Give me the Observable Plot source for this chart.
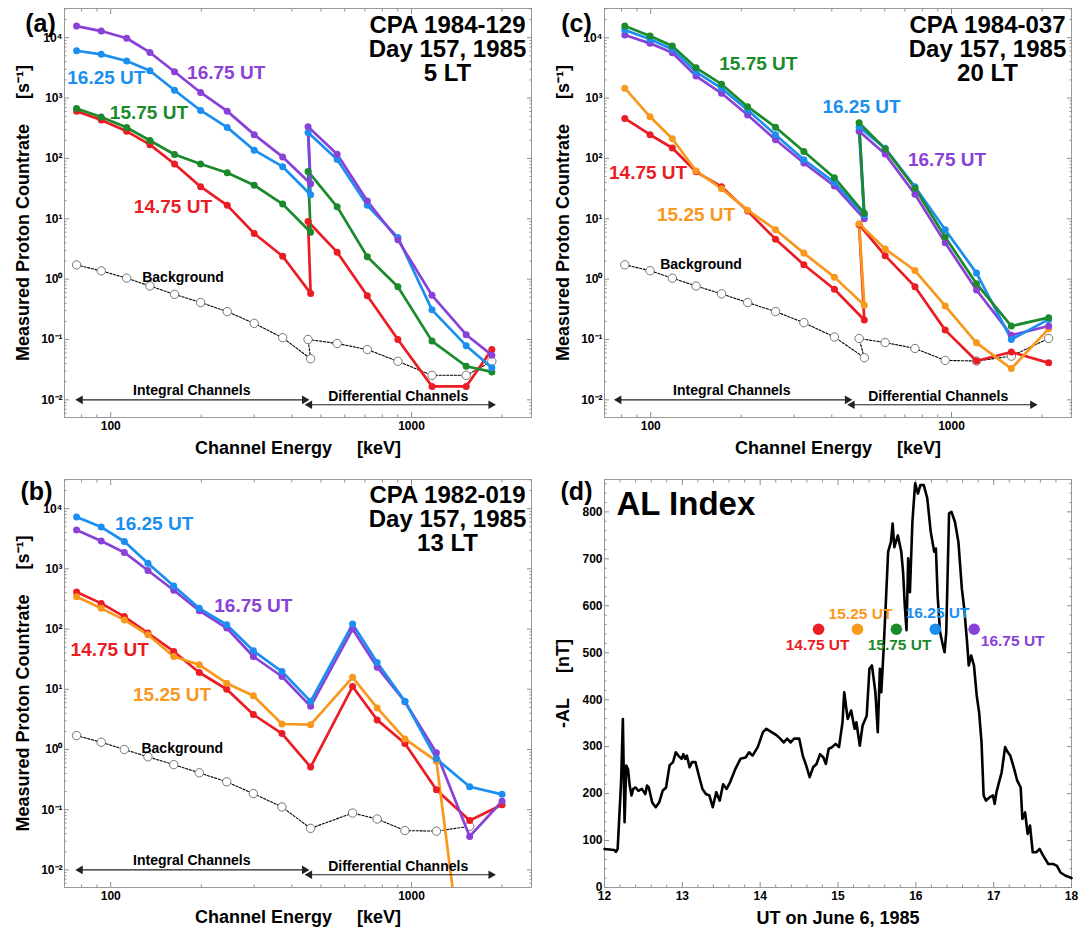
<!DOCTYPE html>
<html><head><meta charset="utf-8">
<script src="https://cdn.jsdelivr.net/npm/d3@7"></script>
<script src="https://cdn.jsdelivr.net/npm/@observablehq/plot@0.6"></script>
<style>
html,body{margin:0;padding:0;background:#fff;}
#fig{position:relative;width:1086px;height:930px;background:#fff;overflow:hidden;}
#fig > div{position:absolute;}
</style></head>
<body><div id="fig"></div>
<script>
// ---------------- DATA ----------------
const timeLabels = ["14.75 UT", "15.25 UT", "15.75 UT", "16.25 UT", "16.75 UT"];
const timeColors = ["#ea1c24", "#f8981d", "#1b8a2b", "#1b8fef", "#8a41d8"];

// Panel (a) CPA 1984-129, 5 LT
const aEnergy = [77, 93, 113, 135, 163, 199, 244, 300, 373, 462, 453, 566, 713, 901, 1170, 1520, 1850];
const aBackground = [1.72, 1.37, 1.04, 0.77, 0.56, 0.41, 0.29, 0.185, 0.107, 0.048, 0.10, 0.086, 0.068, 0.0435, 0.0255, 0.0255, 0.0435];
const a1475 = [608, 434, 281, 169, 81, 34, 16.7, 5.7, 2.4, 0.58, 9.0, 2.8, 0.53, 0.10, 0.0167, 0.0167, 0.068];
const a1575 = [672, 485, 326, 198, 116, 81, 58, 36, 17.5, 6.0, 61, 15.8, 2.35, 0.75, 0.094, 0.036, 0.029];
const a1625 = [6080, 5300, 4110, 2840, 1350, 624, 327, 137, 73, 25, 270, 96, 16.7, 4.9, 0.31, 0.079, 0.034];
const a1675 = [15600, 12900, 9800, 5700, 2730, 1240, 608, 248, 106, 38, 334, 117, 19.7, 4.5, 0.54, 0.12, 0.055];
const aLabelTimes = ["16.75 UT", "16.25 UT", "15.75 UT", "14.75 UT"];
const aLabelEnergy = [242, 96.7, 134, 161];
const aLabelRate = [2640, 2120, 572, 16];
const aTitle = "CPA 1984-129\nDay 157, 1985\n5 LT";

// Panel (b) CPA 1982-019, 13 LT
const bEnergy = [77, 93, 111, 133, 162, 197, 243, 298, 371, 462, 637, 769, 951, 1210, 1561, 2000];
const bBackground = [1.70, 1.32, 1.0, 0.755, 0.56, 0.41, 0.29, 0.185, 0.111, 0.049, 0.088, 0.07, 0.045, 0.044, 0.053, null];
const b1475 = [414, 267, 161, 86, 42.5, 19, 10, 3.8, 1.84, 0.51, 11.1, 3.1, 1.26, 0.215, 0.066, 0.121];
const b1525 = [343, 221, 142, 80.5, 35, 25.5, 12.6, 7.8, 2.65, 2.58, 15.8, 4.9, 1.5, 0.64, 0.00003, null];
const b1625 = [7300, 4940, 2850, 1240, 520, 221, 118, 43.5, 19.7, 6.3, 121, 27.8, 6.3, 0.70, 0.24, 0.18];
const b1675 = [4410, 2910, 1875, 940, 442, 202, 104, 35, 16.3, 5.2, 100, 23.3, 6.2, 0.88, 0.036, 0.138];
const bLabelTimes = ["16.25 UT", "16.75 UT", "14.75 UT", "15.25 UT"];
const bLabelEnergy = [139.5, 298, 99.2, 160];
const bLabelRate = [5610, 241, 45, 8.07];
const bTitle = "CPA 1982-019\nDay 157, 1985\n13 LT";

// Panel (c) CPA 1984-037, 20 LT
const cEnergy = [82, 99.5, 118, 141.5, 172, 210, 260, 323, 408, 513, 493, 602, 756, 953, 1211, 1581, 2104];
const cBackground = [1.73, 1.38, 1.04, 0.77, 0.57, 0.41, 0.29, 0.19, 0.11, 0.05, 0.104, 0.089, 0.071, 0.045, 0.044, 0.053, 0.104];
const c1475 = [460, 247, 149, 60, 34, 13.4, 4.6, 1.73, 0.68, 0.21, 8.0, 2.45, 0.75, 0.143, 0.044, 0.062, 0.041];
const c1525 = [1460, 490, 212, 62, 31.6, 13.9, 6.6, 2.7, 1.08, 0.37, 8.3, 3.16, 1.39, 0.36, 0.088, 0.033, 0.15];
const c1575 = [15600, 10700, 7280, 3170, 1700, 720, 329, 130, 48, 12.3, 390, 144, 32, 5.0, 0.84, 0.167, 0.23];
const c1625 = [13400, 9400, 6420, 2730, 1450, 635, 247, 95, 40, 11.4, 333, 147, 34, 6.6, 1.26, 0.10, 0.215];
const c1675 = [11100, 8070, 5640, 2320, 1200, 523, 204, 84, 35, 10, 281, 118, 25.5, 4.0, 0.66, 0.118, 0.167];
const cLabelTimes = ["15.75 UT", "16.25 UT", "16.75 UT", "14.75 UT", "15.25 UT"];
const cLabelEnergy = [228, 502, 966, 98, 141.5];
const cLabelRate = [3730, 724, 94, 57, 11.4];
const cTitle = "CPA 1984-037\nDay 157, 1985\n20 LT";

// Background / channel annotations (energy, rate)
const aBgLabel = [174, 1.08], bBgLabel = [173, 1.04], cBgLabel = [147, 1.78];
const integralSpan = [77.4, 451], differentialSpan = [448, 1880];
const cIntegralSpan = [76.6, 461], cDifferentialSpan = [457, 1905];
const arrowRates = [0.01, 0.0083];
const channelTextEnergy = [186, 903];
const channelTextRate = [0.0142, 0.0112];

// Panel (d) AL index
const alTime = [
12.000,12.124,12.147,12.169,12.191,12.213,12.236,12.258,12.280,12.302,
12.324,12.347,12.369,12.400,12.436,12.480,12.524,12.547,12.569,12.613,
12.658,12.702,12.747,12.791,12.836,12.880,12.916,12.947,12.991,13.013,
13.036,13.058,13.093,13.124,13.169,13.213,13.258,13.302,13.347,13.391,
13.436,13.480,13.524,13.569,13.613,13.680,13.747,13.813,13.858,13.902,
13.969,14.036,14.080,14.147,14.213,14.258,14.302,14.347,14.391,14.436,
14.502,14.547,14.591,14.636,14.680,14.724,14.769,14.813,14.844,14.880,
14.924,14.969,15.013,15.058,15.080,15.124,15.169,15.213,15.236,15.280,
15.316,15.369,15.404,15.436,15.480,15.511,15.538,15.556,15.582,15.613,
15.644,15.680,15.702,15.724,15.769,15.813,15.836,15.858,15.880,15.902,
15.924,15.956,15.991,16.027,16.058,16.102,16.147,16.191,16.236,16.258,
16.280,16.311,16.347,16.369,16.391,16.427,16.458,16.502,16.547,16.591,
16.622,16.658,16.680,16.711,16.747,16.782,16.813,16.844,16.871,16.902,
16.947,16.991,17.013,17.036,17.080,17.102,17.147,17.182,17.213,17.258,
17.302,17.347,17.369,17.404,17.436,17.467,17.502,17.547,17.591,17.636,
17.702,17.769,17.813,17.858,17.924,17.991,18.000];
const alValue = [
82,80,76,82,153,224,359,139,260,252,
217,196,210,213,206,210,199,217,213,181,
171,181,206,213,260,267,288,281,274,284,
274,281,256,267,267,238,210,199,196,171,
203,185,220,210,224,252,274,277,288,281,
299,331,338,331,324,317,309,317,309,317,
317,281,260,235,256,263,284,277,263,295,
299,306,299,352,416,359,377,338,352,302,
345,366,466,473,416,331,466,416,494,601,
715,736,775,725,750,715,672,601,548,701,
629,779,861,839,857,857,829,758,715,722,
622,544,516,501,544,797,800,779,736,637,
594,523,473,494,473,409,373,309,196,185,
192,196,178,203,231,245,299,288,281,256,
228,213,146,160,114,132,75,75,82,68,
50,50,46,32,25,21,20];
const markerTimes = [14.75, 15.25, 15.75, 16.25, 16.75];
const markerLevel = 550;
const markerLabelTime = [14.738, 15.289, 15.791, 16.28, 17.244];
const markerLabelValue = [516, 582, 516, 585, 526];

// tick values
const xMajorE = [100, 1000];
const xMinorE = [80, 90, 200, 300, 400, 500, 600, 700, 800, 900, 2000];
const yMajorE = [1e-2, 1e-1, 1, 10, 100, 1e3, 1e4];
const alYMajor = [0, 100, 200, 300, 400, 500, 600, 700, 800];
const alXMajor = [12, 13, 14, 15, 16, 17, 18];

// ---------------- DRAWING ----------------
const FONT = "'Liberation Sans', Arial, Helvetica, sans-serif";
const GRAY = "#8e8e8e";
const X_DOMAIN = [70.2, 2506], Y_DOMAIN = [0.0051, 30500];
const SUP = {"-2": "\u207B\u00B2", "-1": "\u207B\u00B9", "0": "\u2070", "1": "\u00B9", "2": "\u00B2", "3": "\u00B3", "4": "\u2074"};
const yMinorE = [];
for (let k = -3; k <= 4; k++) for (let m = 2; m <= 9; m++) {
  const v = m * Math.pow(10, k);
  if (v > Y_DOMAIN[0] && v < Y_DOMAIN[1]) yMinorE.push(v);
}
const alYMinor = d3.range(0, 861, 20).filter(v => v % 100 !== 0);
const alXMinor = d3.range(12, 18.001, 0.2).map(v => +v.toFixed(1)).filter(v => Math.abs(v - Math.round(v)) > 0.01);

function frameAxes(xMajor, xMinor, yMajor, yMinor, xFmt, yFmt) {
  const common = {stroke: GRAY, label: null};
  return [
    Plot.axisX({...common, anchor: "bottom", ticks: xMajor, tickSize: -5, tickPadding: 9, tickFormat: xFmt, fill: "black", fontSize: 12}),
    Plot.axisX({...common, anchor: "top", ticks: xMajor, tickSize: -5, fill: "none"}),
    Plot.axisX({...common, anchor: "bottom", ticks: xMinor, tickSize: -2.5, fill: "none"}),
    Plot.axisX({...common, anchor: "top", ticks: xMinor, tickSize: -2.5, fill: "none"}),
    Plot.axisY({...common, anchor: "left", ticks: yMajor, tickSize: -5, tickPadding: 7, tickFormat: yFmt, fill: "black", fontSize: 12}),
    Plot.axisY({...common, anchor: "right", ticks: yMajor, tickSize: -5, fill: "none"}),
    Plot.axisY({...common, anchor: "left", ticks: yMinor, tickSize: -2.5, fill: "none"}),
    Plot.axisY({...common, anchor: "right", ticks: yMinor, tickSize: -2.5, fill: "none"})
  ];
}

function energyPanel(cfg) {
  const rows = [];
  cfg.series.forEach(([time, values]) => values.forEach((v, i) => rows.push({time, E: cfg.energy[i], v})));
  const bg = cfg.background.map((v, i) => ({E: cfg.energy[i], v}));
  const labels = cfg.labelTimes.map((t, i) => ({time: t, E: cfg.labelEnergy[i], v: cfg.labelRate[i]}));
  const spans = [
    {x1: cfg.intSpan[0], x2: cfg.intSpan[1], y: arrowRates[0]},
    {x1: cfg.difSpan[0], x2: cfg.difSpan[1], y: arrowRates[1]}
  ];
  const heads = spans.flatMap(s => [{x: s.x1, y: s.y, a: -90, dx: 3}, {x: s.x2, y: s.y, a: 90, dx: -3}]);
  const chText = [
    {E: channelTextEnergy[0], v: channelTextRate[0], t: "Integral Channels"},
    {E: channelTextEnergy[1], v: channelTextRate[1], t: "Differential Channels"}
  ];
  return Plot.plot({
    width: cfg.width, height: 465,
    marginLeft: 64, marginRight: cfg.mr, marginTop: cfg.mt, marginBottom: cfg.mb,
    style: {fontFamily: FONT, fontWeight: "bold", fontSize: "12px", background: "white", overflow: "visible"},
    x: {type: "log", domain: X_DOMAIN},
    y: {type: "log", domain: Y_DOMAIN},
    color: {domain: timeLabels, range: timeColors},
    marks: [
      Plot.frame({stroke: "#9a9a9a"}),
      ...frameAxes(xMajorE, xMinorE, yMajorE, yMinorE, d => String(d), d => "10" + SUP[String(Math.round(Math.log10(d)))]),
      Plot.line(bg, {x: "E", y: "v", stroke: "black", strokeWidth: 1.1, strokeDasharray: "2.2,1.6", clip: true}),
      Plot.dot(bg, {x: "E", y: "v", r: 4.2, fill: "white", stroke: "#666", strokeWidth: 0.9, clip: true}),
      Plot.line(rows, {x: "E", y: "v", z: "time", stroke: "time", strokeWidth: 2.7, clip: true}),
      Plot.dot(rows, {x: "E", y: "v", fill: "time", r: 3.5, clip: true}),
      Plot.link(spans, {x1: "x1", x2: "x2", y1: "y", y2: "y", stroke: "#222", strokeWidth: 1.2}),
      Plot.dot(heads.filter(h => h.a < 0), {x: "x", y: "y", rotate: "a", symbol: "triangle", r: 3.2, fill: "#222", dx: 3}),
      Plot.dot(heads.filter(h => h.a > 0), {x: "x", y: "y", rotate: "a", symbol: "triangle", r: 3.2, fill: "#222", dx: -3}),
      Plot.text(chText, {x: "E", y: "v", text: "t", fontSize: 14, fill: "black"}),
      Plot.text([cfg.bgLabel], {x: d => d[0], y: d => d[1], text: () => "Background", fontSize: 14, fill: "black"}),
      Plot.text(labels, {x: "E", y: "v", text: "time", fill: "time", fontSize: 19}),
      Plot.text([cfg.title], {frameAnchor: "top-right", dx: -84, dy: cfg.titleDy, lineAnchor: "top", textAnchor: "middle", fontSize: 24, lineHeight: 0.99, text: d => d, fill: "black"}),
      Plot.text([cfg.letter], {frameAnchor: "top-left", dx: cfg.letterDx, dy: cfg.letterDy, textAnchor: "middle", lineAnchor: "middle", fontSize: 25, text: d => d, fill: "black"}),
      Plot.text(["Measured Proton Countrate\u00a0\u00a0\u00a0\u00a0\u00a0[s\u207B\u00B9]"], {frameAnchor: "left", dx: -41, rotate: -90, textAnchor: "middle", lineAnchor: "middle", fontSize: 18, text: d => d, fill: "black"}),
      Plot.text(["Channel Energy\u00a0\u00a0\u00a0\u00a0\u00a0[keV]"], {frameAnchor: "bottom", dy: cfg.xLabelDy, textAnchor: "middle", lineAnchor: "middle", fontSize: 18, text: d => d, fill: "black"})
    ]
  });
}

function alPanel() {
  const al = alTime.map((t, i) => ({t, v: alValue[i]}));
  const markers = markerTimes.map((t, i) => ({t, v: markerLevel, time: timeLabels[i]}));
  const mlabels = markerLabelTime.map((t, i) => ({t, v: markerLabelValue[i], time: timeLabels[i]}));
  return Plot.plot({
    width: 546, height: 465,
    marginLeft: 64, marginRight: 15, marginTop: 14, marginBottom: 43,
    style: {fontFamily: FONT, fontWeight: "bold", fontSize: "12px", background: "white", overflow: "visible"},
    x: {domain: [12, 18]},
    y: {domain: [0, 869]},
    color: {domain: timeLabels, range: timeColors},
    marks: [
      Plot.frame({stroke: "#9a9a9a"}),
      ...frameAxes(alXMajor, alXMinor, alYMajor, alYMinor, d => String(d), d => String(d)),
      Plot.line(al, {x: "t", y: "v", stroke: "black", strokeWidth: 2.6, strokeLinejoin: "round"}),
      Plot.dot(markers, {x: "t", y: "v", fill: "time", r: 5.8}),
      Plot.text(mlabels, {x: "t", y: "v", text: "time", fill: "time", fontSize: 15.5}),
      Plot.text(["AL Index"], {frameAnchor: "top-left", dx: 12, dy: 24.5, textAnchor: "start", lineAnchor: "middle", fontSize: 33, text: d => d, fill: "black"}),
      Plot.text(["(d)"], {frameAnchor: "top-left", dx: -28, dy: 12, textAnchor: "middle", lineAnchor: "middle", fontSize: 25, text: d => d, fill: "black"}),
      Plot.text(["-AL\u00a0\u00a0\u00a0\u00a0\u00a0[nT]"], {frameAnchor: "left", dx: -41, rotate: -90, textAnchor: "middle", lineAnchor: "middle", fontSize: 18, text: d => d, fill: "black"}),
      Plot.text(["UT on June 6, 1985"], {frameAnchor: "bottom", dy: 31, textAnchor: "middle", lineAnchor: "middle", fontSize: 18, text: d => d, fill: "black"})
    ]
  });
}

const fig = document.getElementById("fig");
function place(node, left, top, w) {
  const d = document.createElement("div");
  d.style.left = left + "px"; d.style.top = top + "px"; d.style.width = w + "px"; d.style.height = "465px";
  d.appendChild(node);
  fig.appendChild(d);
}

place(energyPanel({
  energy: aEnergy, background: aBackground,
  series: [["14.75 UT", a1475], ["15.75 UT", a1575], ["16.25 UT", a1625], ["16.75 UT", a1675]],
  labelTimes: aLabelTimes, labelEnergy: aLabelEnergy, labelRate: aLabelRate,
  bgLabel: aBgLabel, intSpan: integralSpan, difSpan: differentialSpan,
  title: aTitle, letter: "(a)", width: 540, mr: 9, mt: 8, mb: 48,
  titleDy: 8, letterDx: -24, letterDy: 15, xLabelDy: 31
}), 0, 0, 540);

place(energyPanel({
  energy: cEnergy, background: cBackground,
  series: [["14.75 UT", c1475], ["15.25 UT", c1525], ["16.75 UT", c1675], ["16.25 UT", c1625], ["15.75 UT", c1575]],
  labelTimes: cLabelTimes, labelEnergy: cLabelEnergy, labelRate: cLabelRate,
  bgLabel: cBgLabel, intSpan: cIntegralSpan, difSpan: cDifferentialSpan,
  title: cTitle, letter: "(c)", width: 546, mr: 15, mt: 8, mb: 48,
  titleDy: 8, letterDx: -28, letterDy: 15, xLabelDy: 31
}), 540, 0, 546);

place(energyPanel({
  energy: bEnergy, background: bBackground,
  series: [["14.75 UT", b1475], ["15.25 UT", b1525], ["16.75 UT", b1675], ["16.25 UT", b1625]],
  labelTimes: bLabelTimes, labelEnergy: bLabelEnergy, labelRate: bLabelRate,
  bgLabel: bBgLabel, intSpan: integralSpan, difSpan: differentialSpan,
  title: bTitle, letter: "(b)", width: 540, mr: 9, mt: 14, mb: 43,
  titleDy: 7, letterDx: -28, letterDy: 12, xLabelDy: 30
}), 0, 465, 540);

place(alPanel(), 540, 465, 546);
</script>
</body></html>
